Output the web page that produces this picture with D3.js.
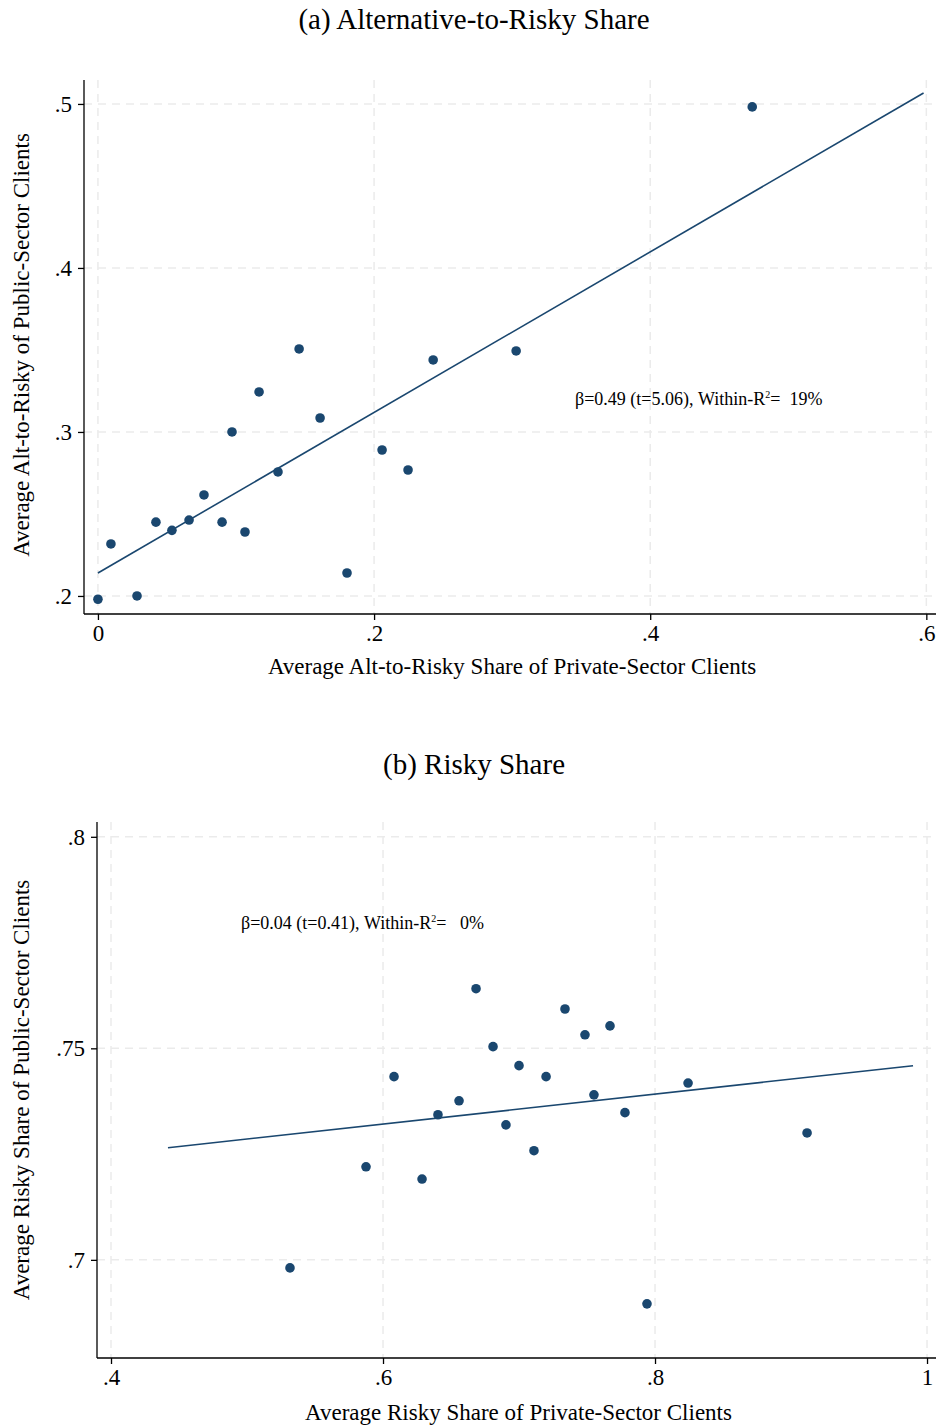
<!DOCTYPE html>
<html><head><meta charset="utf-8">
<script src="https://cdn.jsdelivr.net/npm/d3@7"></script>
<style>body{margin:0;background:#fff}svg{display:block}text{font-family:"Liberation Serif","Times New Roman",serif;fill:#000}</style>
</head><body>
<svg id="c" width="936" height="1426"></svg>
<script>
// Panel (a) data
const aX = [0, 0.0094, 0.0283, 0.042, 0.0536, 0.066, 0.0768, 0.0899, 0.0971, 0.1065, 0.1167, 0.1304, 0.1457, 0.1609, 0.1804, 0.2058, 0.2246, 0.2428, 0.3029, 0.4739];
const aY = [0.198, 0.2317, 0.200, 0.245, 0.240, 0.2463, 0.2616, 0.245, 0.300, 0.239, 0.3244, 0.2756, 0.3506, 0.3085, 0.214, 0.289, 0.2768, 0.3439, 0.3494, 0.4982];
const aFitX = [0, 0.598];
const aFitY = [0.214, 0.5067];
const aXTicks = [0, 0.2, 0.4, 0.6];
const aYTicks = [0.2, 0.3, 0.4, 0.5];
// Panel (b) data
const bX = [0.5316, 0.5875, 0.6081, 0.6287, 0.6404, 0.6559, 0.6684, 0.6809, 0.6904, 0.70, 0.711, 0.7199, 0.7338, 0.7485, 0.7551, 0.7669, 0.7779, 0.7941, 0.8243, 0.9118];
const bY = [0.6981, 0.722, 0.7433, 0.7191, 0.7343, 0.7376, 0.7641, 0.7504, 0.7319, 0.7459, 0.7258, 0.7433, 0.7593, 0.7532, 0.739, 0.7553, 0.7348, 0.6896, 0.7418, 0.73];
const bFitX = [0.4419, 0.9897];
const bFitY = [0.7265, 0.7459];
const bXTicks = [0.4, 0.6, 0.8, 1];
const bYTicks = [0.7, 0.75, 0.8];

const col = "#1a476f";
const svg = d3.select("#c");
const fmt = v => v === 0 ? "0" : (v === 1 ? "1" : String(v).replace(/^0/, ""));

function panel(o) {
  const g = svg.append("g");
  const x = d3.scaleLinear().domain(o.xDom).range([o.left, o.right]);
  const y = d3.scaleLinear().domain(o.yDom).range([o.bottom, o.top]);
  // title
  g.append("text").attr("x", 474).attr("y", o.titleY).attr("text-anchor", "middle")
    .style("font-size", "29px").text(o.title);
  // grid
  g.selectAll(".hg").data(o.yTicks).join("line")
    .attr("x1", o.left).attr("x2", o.right).attr("y1", d => y(d)).attr("y2", d => y(d))
    .attr("stroke", "#ebebeb").attr("stroke-width", 1.5).attr("stroke-dasharray", "8,6");
  g.selectAll(".vg").data(o.xTicks).join("line")
    .attr("y1", o.top).attr("y2", o.bottom).attr("x1", d => x(d)).attr("x2", d => x(d))
    .attr("stroke", "#ebebeb").attr("stroke-width", 1.5).attr("stroke-dasharray", "8,6");
  // axes
  const xa = d3.axisBottom(x).tickValues(o.xTicks).tickFormat(fmt).tickSize(6).tickPadding(5);
  const ya = d3.axisLeft(y).tickValues(o.yTicks).tickFormat(fmt).tickSize(6).tickPadding(6);
  const gx = g.append("g").attr("transform", `translate(0,${o.bottom})`).call(xa);
  const gy = g.append("g").attr("transform", `translate(${o.left},0)`).call(ya);
  [gx, gy].forEach(a => {
    a.select(".domain").attr("stroke", "#000").attr("stroke-width", 1.3);
    a.selectAll(".tick line").attr("stroke", "#000").attr("stroke-width", 1.3);
    a.selectAll(".tick text").style("font-size", "23px").style("font-family", '"Liberation Serif",serif').attr("fill", "#000");
  });
  gx.select(".domain").attr("d", `M${o.left},0H${o.right}`);
  gy.select(".domain").attr("d", `M0,${o.bottom}V${o.top}`);
  // axis titles
  g.append("text").attr("x", (o.left + o.right) / 2 + 2).attr("y", o.xLabY).attr("text-anchor", "middle")
    .style("font-size", "23px").text(o.xLab);
  g.append("text").attr("transform", `translate(29,${o.yLabC}) rotate(-90)`).attr("text-anchor", "middle")
    .style("font-size", "23px").text(o.yLab);
  // fit line
  g.append("line").attr("x1", x(o.fitX[0])).attr("x2", x(o.fitX[1]))
    .attr("y1", y(o.fitY[0])).attr("y2", y(o.fitY[1]))
    .attr("stroke", col).attr("stroke-width", 1.6);
  // points
  g.selectAll("circle").data(o.xs.map((v, i) => [v, o.ys[i]])).join("circle")
    .attr("cx", d => x(d[0])).attr("cy", d => y(d[1])).attr("r", 4.8).attr("fill", col);
  // annotation
  const t = g.append("text").attr("x", o.annX).attr("y", o.annY).style("font-size", "18px")
    .style("white-space", "pre").attr("xml:space", "preserve");
  t.append("tspan").text(o.ann1);
  t.append("tspan").attr("dy", -7).style("font-size", "10px").text("2");
  t.append("tspan").attr("dy", 7).text(o.ann2);
}

panel({
  title: "(a) Alternative-to-Risky Share", titleY: 29,
  xDom: [-0.0101, 0.607], yDom: [0.189, 0.5146],
  left: 84, right: 936, top: 80, bottom: 614,
  xTicks: aXTicks, yTicks: aYTicks, xs: aX, ys: aY, fitX: aFitX, fitY: aFitY,
  xLab: "Average Alt-to-Risky Share of Private-Sector Clients", xLabY: 674,
  yLab: "Average Alt-to-Risky of Public-Sector Clients", yLabC: 345,
  annX: 575, annY: 405, ann1: "β=0.49 (t=5.06), Within-R", ann2: "=  19%"
});
panel({
  title: "(b) Risky Share", titleY: 774,
  xDom: [0.3897, 1.0066], yDom: [0.6768, 0.8035],
  left: 97, right: 936, top: 822, bottom: 1358,
  xTicks: bXTicks, yTicks: bYTicks, xs: bX, ys: bY, fitX: bFitX, fitY: bFitY,
  xLab: "Average Risky Share of Private-Sector Clients", xLabY: 1420,
  yLab: "Average Risky Share of Public-Sector Clients", yLabC: 1090,
  annX: 241, annY: 929, ann1: "β=0.04 (t=0.41), Within-R", ann2: "=   0%"
});
</script>
</body></html>
